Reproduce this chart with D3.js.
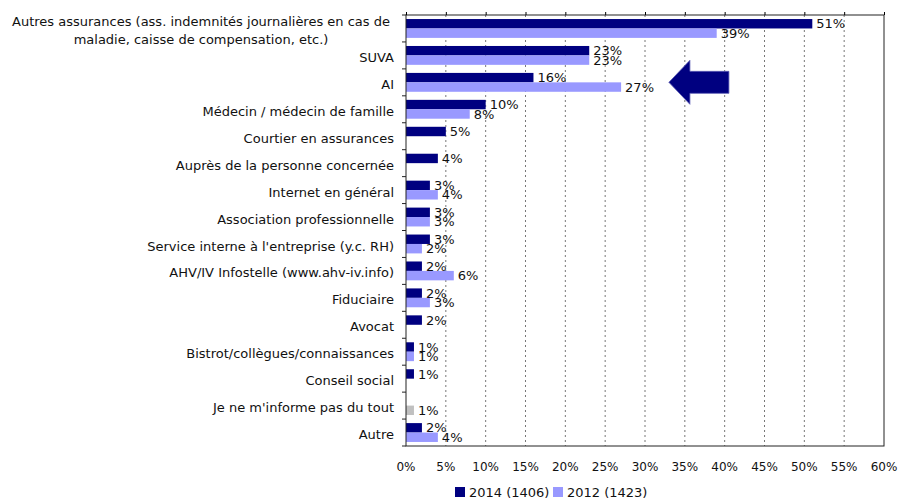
<!DOCTYPE html>
<html>
<head>
<meta charset="utf-8">
<script src="https://cdn.jsdelivr.net/npm/d3@7"></script>
<style>
	body { margin: 0; background: #fff; }
	text { font-family: "DejaVu Sans", sans-serif; fill: #111; }
</style>
</head>
<body>
<div id="bar"></div>
<script>
// categories, top to bottom
const categories = [
	"Autres assurances (ass. indemnités journalières en cas de\nmaladie, caisse de compensation, etc.)",
	"SUVA",
	"AI",
	"Médecin / médecin de famille",
	"Courtier en assurances",
	"Auprès de la personne concernée",
	"Internet en général",
	"Association professionnelle",
	"Service interne à l'entreprise (y.c. RH)",
	"AHV/IV Infostelle (www.ahv-iv.info)",
	"Fiduciaire",
	"Avocat",
	"Bistrot/collègues/connaissances",
	"Conseil social",
	"Je ne m'informe pas du tout",
	"Autre"
];
// null = no bar for that year
const values2014 = [51, 23, 16, 10, 5, 4, 3, 3, 3, 2, 2, 2, 1, 1, null, 2];
const values2012 = [39, 23, 27, 8, null, null, 4, 3, 2, 6, 3, null, 1, null, 1, 4];
const seriesNames = ["2014 (1406)", "2012 (1423)"];
const xTicks = [0, 5, 10, 15, 20, 25, 30, 35, 40, 45, 50, 55, 60];

class BarChart {
	constructor(){
		this.margin = {top: 15, right: 15, bottom: 54, left: 406};
		this.width = 899 - this.margin.left - this.margin.right;
		this.height = 500 - this.margin.top - this.margin.bottom;
		this.colors = ["#000080", "#9999ff"];
		this.initVis();
		this.renderVis();
	}

	initVis() {
		let vis = this;

		vis.svg = d3.select("#bar").append("svg")
			.attr("width", 899)
			.attr("height", 500);

		vis.focus = vis.svg.append("g")
			.attr("transform", `translate(${vis.margin.left}, ${vis.margin.top})`);

		vis.x = d3.scaleLinear().domain([0, 60]).range([0, vis.width]);
		vis.y = d3.scaleBand().domain(d3.range(categories.length)).range([0, vis.height]).paddingInner(0.3).paddingOuter(0.15);
		vis.yBand = d3.scaleBand().domain(d3.range(categories.length)).range([0, vis.height]);
		vis.ySub = d3.scaleBand().domain([0, 1]).range([0, vis.y.bandwidth()]);

		vis.data = [];
		categories.forEach((c, i) => {
			[values2014[i], values2012[i]].forEach((v, s) => {
				if (v !== null) vis.data.push({cat: i, series: s, value: v});
			});
		});
	}

	renderVis(){
		let vis = this;

		// dotted vertical grid
		vis.focus.append("g")
			.selectAll("line")
			.data(xTicks.filter(t => t > 0 && t < 60))
			.enter().append("line")
			.attr("x1", d => vis.x(d)).attr("x2", d => vis.x(d))
			.attr("y1", 0).attr("y2", vis.height)
			.attr("stroke", "#777")
			.attr("stroke-dasharray", "2,3");

		// bars
		vis.focus.append("g")
			.selectAll("rect")
			.data(vis.data)
			.enter().append("rect")
			.attr("x", 0)
			.attr("y", d => vis.y(d.cat) + vis.ySub(d.series))
			.attr("width", d => vis.x(d.value))
			.attr("height", vis.ySub.bandwidth())
			// "Je ne m'informe pas du tout" is drawn gray in the original
			.attr("fill", d => d.cat === 14 ? "#c0c0c0" : vis.colors[d.series]);

		// value labels
		vis.focus.append("g")
			.selectAll("text")
			.data(vis.data)
			.enter().append("text")
			.attr("x", d => vis.x(d.value) + 4)
			.attr("y", d => vis.y(d.cat) + vis.ySub(d.series) + vis.ySub.bandwidth() / 2)
			.attr("dy", "0.36em")
			.style("font-size", "13px")
			.text(d => d.value + "%");

		// frame
		vis.focus.append("rect")
			.attr("width", vis.width).attr("height", vis.height)
			.attr("fill", "none")
			.attr("stroke", "#222");

		// top ticks
		vis.focus.append("g")
			.call(d3.axisTop(vis.x).tickValues(xTicks).tickSize(3).tickFormat(""))
			.call(g => g.select(".domain").remove());

		// category tick marks on the left
		vis.focus.append("g")
			.selectAll("line")
			.data(d3.range(categories.length + 1))
			.enter().append("line")
			.attr("x1", -4).attr("x2", 0)
			.attr("y1", d => d * vis.yBand.step()).attr("y2", d => d * vis.yBand.step())
			.attr("stroke", "#222");

		// bottom tick labels
		vis.focus.append("g")
			.selectAll("text")
			.data(xTicks)
			.enter().append("text")
			.attr("x", d => vis.x(d))
			.attr("y", vis.height + 25)
			.attr("text-anchor", "middle")
			.style("font-size", "12px")
			.text(d => d + "%");

		// category labels
		let labels = vis.focus.append("g")
			.selectAll("text")
			.data(categories)
			.enter().append("text")
			.attr("y", (d, i) => vis.yBand(i) + vis.yBand.bandwidth() / 2 + 2)
			.attr("text-anchor", "end")
			.style("font-size", "13px");
		labels.each(function(d) {
			let lines = d.split("\n");
			let t = d3.select(this);
			if (lines.length === 1) {
				t.attr("x", -12).attr("dy", "0.35em").text(d);
			} else {
				t.attr("text-anchor", "middle").attr("x", -205);
				lines.forEach((l, k) => {
					t.append("tspan").attr("x", -205)
						.attr("dy", k === 0 ? "-0.35em" : "1.4em")
						.text(l);
				});
			}
		});

		// arrow annotation pointing at AI 2012
		let ax = vis.x(33), ay = vis.yBand(2) + vis.yBand.bandwidth() / 2;
		let arrow = d3.path();
		arrow.moveTo(ax, ay);
		arrow.lineTo(ax + 21, ay - 22);
		arrow.lineTo(ax + 21, ay - 11);
		arrow.lineTo(ax + 60, ay - 11);
		arrow.lineTo(ax + 60, ay + 11);
		arrow.lineTo(ax + 21, ay + 11);
		arrow.lineTo(ax + 21, ay + 22);
		arrow.closePath();
		vis.focus.append("path")
			.attr("d", arrow.toString())
			.attr("fill", "#000080")
			.attr("stroke", "#5a5ab4")
			.attr("stroke-width", 0.8);

		// legend
		let legend = vis.svg.append("g").attr("transform", "translate(455, 492)");
		let lx = [0, 98];
		seriesNames.forEach((n, s) => {
			legend.append("rect")
				.attr("x", lx[s]).attr("y", -5)
				.attr("width", 10).attr("height", 10)
				.attr("fill", vis.colors[s]);
			legend.append("text")
				.attr("x", lx[s] + 14).attr("dy", "0.36em")
				.style("font-size", "13px")
				.text(n);
		});
	}
}

new BarChart();
</script>
</body>
</html>
